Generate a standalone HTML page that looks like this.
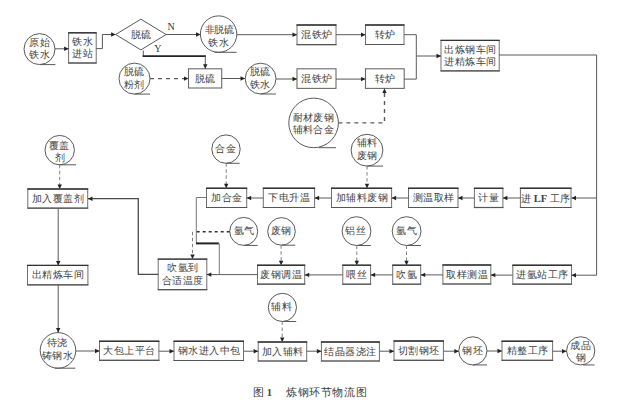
<!DOCTYPE html>
<html><head><meta charset="utf-8"><style>
html,body{margin:0;padding:0;background:#fff;width:624px;height:403px;overflow:hidden}
svg{display:block}
text{font-family:"Liberation Serif",serif;font-size:10.5px;fill:#404040}
</style></head><body>
<svg width="624" height="403" viewBox="0 0 624 403">
<rect width="624" height="403" fill="#fff"/>
<circle cx="39.5" cy="49.1" r="15.5" fill="none" stroke="#5a5a5a" stroke-width="1"/>
<line x1="40.3" y1="64.6" x2="55.4" y2="64.6" stroke="#5a5a5a" stroke-width="1"/>
<text x="39.599999999999994" y="46.128" text-anchor="middle" style="font-size:9.8px;letter-spacing:0.6px">原始</text>
<text x="39.599999999999994" y="58.327999999999996" text-anchor="middle" style="font-size:9.8px;letter-spacing:0.6px">铁水</text>
<circle cx="218.6" cy="34.1" r="18.2" fill="none" stroke="#5a5a5a" stroke-width="1"/>
<line x1="214.4" y1="52.3" x2="236.7" y2="52.3" stroke="#5a5a5a" stroke-width="1"/>
<text x="219.4" y="32.956" text-anchor="middle" style="font-size:9.6px;letter-spacing:-0.2px">非脱硫</text>
<text x="218.70000000000002" y="45.728" text-anchor="middle" style="font-size:9.8px;letter-spacing:0.6px">铁水</text>
<circle cx="134.5" cy="78.6" r="15.5" fill="none" stroke="#5a5a5a" stroke-width="1"/>
<line x1="134.5" y1="94.1" x2="150" y2="94.1" stroke="#5a5a5a" stroke-width="1"/>
<text x="134.5" y="74.828" text-anchor="middle" style="font-size:9.8px;letter-spacing:0.6px">脱硫</text>
<text x="134.5" y="87.528" text-anchor="middle" style="font-size:9.8px;letter-spacing:0.6px">粉剂</text>
<circle cx="260.6" cy="78.6" r="15.4" fill="none" stroke="#5a5a5a" stroke-width="1"/>
<line x1="260.6" y1="94.0" x2="276" y2="94.0" stroke="#5a5a5a" stroke-width="1"/>
<text x="260.3" y="75.028" text-anchor="middle" style="font-size:9.8px;letter-spacing:0.6px">脱硫</text>
<text x="260.3" y="87.828" text-anchor="middle" style="font-size:9.8px;letter-spacing:0.6px">铁水</text>
<circle cx="313.6" cy="122.9" r="24.8" fill="none" stroke="#5a5a5a" stroke-width="1"/>
<line x1="318.7" y1="147.70000000000002" x2="336" y2="147.70000000000002" stroke="#5a5a5a" stroke-width="1"/>
<text x="313.4" y="120.708" text-anchor="middle" style="font-size:10.3px;letter-spacing:0.4px">耐材废钢</text>
<text x="313.4" y="132.708" text-anchor="middle" style="font-size:10.3px;letter-spacing:0.4px">辅料合金</text>
<circle cx="59.7" cy="150.1" r="14.7" fill="none" stroke="#5a5a5a" stroke-width="1"/>
<line x1="58.75" y1="164.79999999999998" x2="76" y2="164.79999999999998" stroke="#5a5a5a" stroke-width="1"/>
<text x="59.3" y="148.628" text-anchor="middle" style="font-size:9.8px;letter-spacing:0.6px">覆盖</text>
<text x="60.099999999999994" y="160.828" text-anchor="middle" style="font-size:9.8px;letter-spacing:0.6px">剂</text>
<circle cx="226" cy="149.1" r="14.2" fill="none" stroke="#5a5a5a" stroke-width="1"/>
<line x1="225.8" y1="163.29999999999998" x2="239.7" y2="163.29999999999998" stroke="#5a5a5a" stroke-width="1"/>
<text x="226.10000000000002" y="151.628" text-anchor="middle" style="font-size:9.8px;letter-spacing:0.6px">合金</text>
<circle cx="367" cy="150.2" r="15.9" fill="none" stroke="#5a5a5a" stroke-width="1"/>
<line x1="367" y1="166.1" x2="383" y2="166.1" stroke="#5a5a5a" stroke-width="1"/>
<text x="367.3" y="146.328" text-anchor="middle" style="font-size:9.8px;letter-spacing:0.6px">辅料</text>
<text x="367.3" y="159.028" text-anchor="middle" style="font-size:9.8px;letter-spacing:0.6px">废钢</text>
<circle cx="243.7" cy="231.4" r="14" fill="none" stroke="#5a5a5a" stroke-width="1"/>
<line x1="243.7" y1="245.4" x2="257.7" y2="245.4" stroke="#5a5a5a" stroke-width="1"/>
<text x="244.20000000000002" y="234.128" text-anchor="middle" style="font-size:9.8px;letter-spacing:0.6px">氩气</text>
<circle cx="281.5" cy="231.4" r="13.8" fill="none" stroke="#5a5a5a" stroke-width="1"/>
<line x1="281.5" y1="245.20000000000002" x2="295.3" y2="245.20000000000002" stroke="#5a5a5a" stroke-width="1"/>
<text x="281.5" y="234.428" text-anchor="middle" style="font-size:9.8px;letter-spacing:0.6px">废钢</text>
<circle cx="356.5" cy="231.1" r="14.4" fill="none" stroke="#5a5a5a" stroke-width="1"/>
<line x1="356.5" y1="245.5" x2="370.9" y2="245.5" stroke="#5a5a5a" stroke-width="1"/>
<text x="355.90000000000003" y="233.928" text-anchor="middle" style="font-size:9.8px;letter-spacing:0.6px">铝丝</text>
<circle cx="406.6" cy="231.1" r="14.4" fill="none" stroke="#5a5a5a" stroke-width="1"/>
<line x1="406.6" y1="245.5" x2="421" y2="245.5" stroke="#5a5a5a" stroke-width="1"/>
<text x="406.8" y="233.928" text-anchor="middle" style="font-size:9.8px;letter-spacing:0.6px">氩气</text>
<circle cx="58" cy="350.4" r="17.8" fill="none" stroke="#5a5a5a" stroke-width="1"/>
<line x1="54.8" y1="368.2" x2="75.4" y2="368.2" stroke="#5a5a5a" stroke-width="1"/>
<text x="57.4" y="345.528" text-anchor="middle" style="font-size:9.8px;letter-spacing:0.6px">待浇</text>
<text x="57.5" y="358.55600000000004" text-anchor="middle" style="font-size:9.6px;letter-spacing:0.2px">铸钢水</text>
<circle cx="282.4" cy="307.4" r="14.1" fill="none" stroke="#5a5a5a" stroke-width="1"/>
<line x1="282.4" y1="321.5" x2="296.2" y2="321.5" stroke="#5a5a5a" stroke-width="1"/>
<text x="282.1" y="310.428" text-anchor="middle" style="font-size:9.8px;letter-spacing:0.6px">辅料</text>
<circle cx="472.85" cy="350.85" r="14.1" fill="none" stroke="#5a5a5a" stroke-width="1"/>
<line x1="472.8" y1="364.95000000000005" x2="487" y2="364.95000000000005" stroke="#5a5a5a" stroke-width="1"/>
<text x="472.90000000000003" y="353.928" text-anchor="middle" style="font-size:9.8px;letter-spacing:0.6px">钢坯</text>
<circle cx="580.7" cy="350.85" r="14.1" fill="none" stroke="#5a5a5a" stroke-width="1"/>
<line x1="583" y1="364.95000000000005" x2="594.5" y2="364.95000000000005" stroke="#5a5a5a" stroke-width="1"/>
<text x="580.5999999999999" y="349.428" text-anchor="middle" style="font-size:9.8px;letter-spacing:0.6px">成品</text>
<text x="580.9" y="361.428" text-anchor="middle" style="font-size:9.8px;letter-spacing:0.6px">钢</text>
<rect x="68.6" y="32.8" width="27.60000000000001" height="30.200000000000003" fill="none" stroke="#707070" stroke-width="1"/>
<line x1="68.1" y1="32.8" x2="96.7" y2="32.8" stroke="#333" stroke-width="1.4"/>
<line x1="68.1" y1="63" x2="96.7" y2="63" stroke="#555" stroke-width="1.2"/>
<text x="82.65" y="44.85" text-anchor="middle" style="font-size:10px;letter-spacing:0.5px">铁水</text>
<text x="82.65" y="57.35" text-anchor="middle" style="font-size:10px;letter-spacing:0.5px">进站</text>
<rect x="188.5" y="68.8" width="33.19999999999999" height="19.200000000000003" fill="none" stroke="#6a6a6a" stroke-width="1.1"/>
<text x="205.35" y="81.6" text-anchor="middle" style="font-size:10px;letter-spacing:0.5px">脱硫</text>
<rect x="297" y="25" width="39" height="19.6" fill="none" stroke="#707070" stroke-width="1"/>
<line x1="296.5" y1="25" x2="336.5" y2="25" stroke="#333" stroke-width="1.4"/>
<line x1="296.5" y1="44.6" x2="336.5" y2="44.6" stroke="#555" stroke-width="1.2"/>
<text x="316.75" y="38.0" text-anchor="middle" style="font-size:10px;letter-spacing:0.5px">混铁炉</text>
<rect x="365.5" y="25" width="38.5" height="19.5" fill="none" stroke="#707070" stroke-width="1"/>
<line x1="365.0" y1="25" x2="404.5" y2="25" stroke="#333" stroke-width="1.4"/>
<line x1="365.0" y1="44.5" x2="404.5" y2="44.5" stroke="#555" stroke-width="1.2"/>
<text x="385.0" y="37.95" text-anchor="middle" style="font-size:10px;letter-spacing:0.5px">转炉</text>
<rect x="297" y="68.8" width="39" height="19.60000000000001" fill="none" stroke="#6a6a6a" stroke-width="1.1"/>
<text x="316.75" y="81.79999999999998" text-anchor="middle" style="font-size:10px;letter-spacing:0.5px">混铁炉</text>
<rect x="365.5" y="68.8" width="38.69999999999999" height="19.60000000000001" fill="none" stroke="#6a6a6a" stroke-width="1.1"/>
<text x="385.1" y="81.79999999999998" text-anchor="middle" style="font-size:10px;letter-spacing:0.5px">转炉</text>
<rect x="441" y="40.4" width="58.19999999999999" height="30.500000000000007" fill="none" stroke="#707070" stroke-width="1"/>
<line x1="440.5" y1="40.4" x2="499.7" y2="40.4" stroke="#333" stroke-width="1.4"/>
<line x1="440.5" y1="70.9" x2="499.7" y2="70.9" stroke="#555" stroke-width="1.2"/>
<text x="470.35" y="52.60000000000001" text-anchor="middle" style="font-size:10px;letter-spacing:0.5px">出炼钢车间</text>
<text x="470.35" y="65.10000000000001" text-anchor="middle" style="font-size:10px;letter-spacing:0.5px">进精炼车间</text>
<rect x="520.4" y="188.3" width="50.60000000000002" height="19.19999999999999" fill="none" stroke="#707070" stroke-width="1"/>
<line x1="519.9" y1="188.3" x2="571.5" y2="188.3" stroke="#333" stroke-width="1.4"/>
<line x1="519.9" y1="207.5" x2="571.5" y2="207.5" stroke="#555" stroke-width="1.2"/>
<rect x="474.4" y="188.3" width="28.5" height="19.19999999999999" fill="none" stroke="#707070" stroke-width="1"/>
<line x1="473.9" y1="188.3" x2="503.4" y2="188.3" stroke="#333" stroke-width="1.4"/>
<line x1="473.9" y1="207.5" x2="503.4" y2="207.5" stroke="#555" stroke-width="1.2"/>
<text x="488.9" y="201.1" text-anchor="middle" style="font-size:10px;letter-spacing:0.5px">计量</text>
<rect x="408.5" y="188.3" width="49.5" height="19.19999999999999" fill="none" stroke="#707070" stroke-width="1"/>
<line x1="408.0" y1="188.3" x2="458.5" y2="188.3" stroke="#333" stroke-width="1.4"/>
<line x1="408.0" y1="207.5" x2="458.5" y2="207.5" stroke="#555" stroke-width="1.2"/>
<text x="433.5" y="201.1" text-anchor="middle" style="font-size:10px;letter-spacing:0.5px">测温取样</text>
<rect x="331.5" y="188.3" width="60.10000000000002" height="19.19999999999999" fill="none" stroke="#707070" stroke-width="1"/>
<line x1="331.0" y1="188.3" x2="392.1" y2="188.3" stroke="#333" stroke-width="1.4"/>
<line x1="331.0" y1="207.5" x2="392.1" y2="207.5" stroke="#555" stroke-width="1.2"/>
<text x="361.8" y="201.1" text-anchor="middle" style="font-size:10px;letter-spacing:0.5px">加辅料废钢</text>
<rect x="263.3" y="188.3" width="51.30000000000001" height="19.19999999999999" fill="none" stroke="#707070" stroke-width="1"/>
<line x1="262.8" y1="188.3" x2="315.1" y2="188.3" stroke="#333" stroke-width="1.4"/>
<line x1="262.8" y1="207.5" x2="315.1" y2="207.5" stroke="#555" stroke-width="1.2"/>
<text x="289.20000000000005" y="201.1" text-anchor="middle" style="font-size:10px;letter-spacing:0.5px">下电升温</text>
<rect x="206.5" y="188.3" width="40.19999999999999" height="19.19999999999999" fill="none" stroke="#707070" stroke-width="1"/>
<line x1="206.0" y1="188.3" x2="247.2" y2="188.3" stroke="#333" stroke-width="1.4"/>
<line x1="206.0" y1="207.5" x2="247.2" y2="207.5" stroke="#555" stroke-width="1.2"/>
<text x="226.85" y="201.1" text-anchor="middle" style="font-size:10px;letter-spacing:0.5px">加合金</text>
<rect x="27.8" y="189" width="59.900000000000006" height="19.19999999999999" fill="none" stroke="#707070" stroke-width="1"/>
<line x1="27.3" y1="189" x2="88.2" y2="189" stroke="#333" stroke-width="1.4"/>
<line x1="27.3" y1="208.2" x2="88.2" y2="208.2" stroke="#555" stroke-width="1.2"/>
<text x="58.0" y="201.79999999999998" text-anchor="middle" style="font-size:10px;letter-spacing:0.5px">加入覆盖剂</text>
<rect x="158.2" y="259.1" width="48.60000000000002" height="30.599999999999966" fill="none" stroke="#707070" stroke-width="1"/>
<line x1="157.7" y1="259.1" x2="207.3" y2="259.1" stroke="#333" stroke-width="1.4"/>
<line x1="157.7" y1="289.7" x2="207.3" y2="289.7" stroke="#555" stroke-width="1.2"/>
<text x="182.75" y="271.35" text-anchor="middle" style="font-size:10px;letter-spacing:0.5px">吹氩到</text>
<text x="182.75" y="283.85" text-anchor="middle" style="font-size:10px;letter-spacing:0.5px">合适温度</text>
<rect x="257.5" y="265.2" width="47.19999999999999" height="19.0" fill="none" stroke="#707070" stroke-width="1"/>
<line x1="257.0" y1="265.2" x2="305.2" y2="265.2" stroke="#333" stroke-width="1.4"/>
<line x1="257.0" y1="284.2" x2="305.2" y2="284.2" stroke="#555" stroke-width="1.2"/>
<text x="281.35" y="277.90000000000003" text-anchor="middle" style="font-size:10px;letter-spacing:0.5px">废钢调温</text>
<rect x="342.8" y="265.2" width="27.80000000000001" height="19.0" fill="none" stroke="#707070" stroke-width="1"/>
<line x1="342.3" y1="265.2" x2="371.1" y2="265.2" stroke="#333" stroke-width="1.4"/>
<line x1="342.3" y1="284.2" x2="371.1" y2="284.2" stroke="#555" stroke-width="1.2"/>
<text x="356.95000000000005" y="277.90000000000003" text-anchor="middle" style="font-size:10px;letter-spacing:0.5px">喂丝</text>
<rect x="392.7" y="265.2" width="28.0" height="19.0" fill="none" stroke="#707070" stroke-width="1"/>
<line x1="392.2" y1="265.2" x2="421.2" y2="265.2" stroke="#333" stroke-width="1.4"/>
<line x1="392.2" y1="284.2" x2="421.2" y2="284.2" stroke="#555" stroke-width="1.2"/>
<text x="406.95" y="277.90000000000003" text-anchor="middle" style="font-size:10px;letter-spacing:0.5px">吹氩</text>
<rect x="442.9" y="265" width="47.900000000000034" height="19" fill="none" stroke="#707070" stroke-width="1"/>
<line x1="442.4" y1="265" x2="491.3" y2="265" stroke="#333" stroke-width="1.4"/>
<line x1="442.4" y1="284" x2="491.3" y2="284" stroke="#555" stroke-width="1.2"/>
<text x="467.1" y="277.70000000000005" text-anchor="middle" style="font-size:10px;letter-spacing:0.5px">取样测温</text>
<rect x="512.8" y="265.2" width="58.700000000000045" height="19.0" fill="none" stroke="#707070" stroke-width="1"/>
<line x1="512.3" y1="265.2" x2="572.0" y2="265.2" stroke="#333" stroke-width="1.4"/>
<line x1="512.3" y1="284.2" x2="572.0" y2="284.2" stroke="#555" stroke-width="1.2"/>
<text x="542.4" y="277.90000000000003" text-anchor="middle" style="font-size:10px;letter-spacing:0.5px">进氩站工序</text>
<rect x="27.5" y="265.4" width="60.400000000000006" height="19.400000000000034" fill="none" stroke="#707070" stroke-width="1"/>
<line x1="27.0" y1="265.4" x2="88.4" y2="265.4" stroke="#333" stroke-width="1.4"/>
<line x1="27.0" y1="284.8" x2="88.4" y2="284.8" stroke="#555" stroke-width="1.2"/>
<text x="57.95" y="278.30000000000007" text-anchor="middle" style="font-size:10px;letter-spacing:0.5px">出精炼车间</text>
<rect x="99.5" y="341.3" width="59.400000000000006" height="19.0" fill="none" stroke="#707070" stroke-width="1"/>
<line x1="99.0" y1="341.3" x2="159.4" y2="341.3" stroke="#333" stroke-width="1.4"/>
<line x1="99.0" y1="360.3" x2="159.4" y2="360.3" stroke="#555" stroke-width="1.2"/>
<text x="129.45" y="354.00000000000006" text-anchor="middle" style="font-size:10px;letter-spacing:0.5px">大包上平台</text>
<rect x="174" y="341.3" width="69.5" height="19.19999999999999" fill="none" stroke="#707070" stroke-width="1"/>
<line x1="173.5" y1="341.3" x2="244.0" y2="341.3" stroke="#333" stroke-width="1.4"/>
<line x1="173.5" y1="360.5" x2="244.0" y2="360.5" stroke="#555" stroke-width="1.2"/>
<text x="209.0" y="354.1" text-anchor="middle" style="font-size:10px;letter-spacing:0.5px">钢水进入中包</text>
<rect x="258.2" y="342" width="48.5" height="19" fill="none" stroke="#707070" stroke-width="1"/>
<line x1="257.7" y1="342" x2="307.2" y2="342" stroke="#333" stroke-width="1.4"/>
<line x1="257.7" y1="361" x2="307.2" y2="361" stroke="#555" stroke-width="1.2"/>
<text x="282.7" y="354.70000000000005" text-anchor="middle" style="font-size:10px;letter-spacing:0.5px">加入辅料</text>
<rect x="321.4" y="342" width="58.0" height="19" fill="none" stroke="#707070" stroke-width="1"/>
<line x1="320.9" y1="342" x2="379.9" y2="342" stroke="#333" stroke-width="1.4"/>
<line x1="320.9" y1="361" x2="379.9" y2="361" stroke="#555" stroke-width="1.2"/>
<text x="350.65" y="354.70000000000005" text-anchor="middle" style="font-size:10px;letter-spacing:0.5px">结晶器浇注</text>
<rect x="394" y="341" width="49.39999999999998" height="19.30000000000001" fill="none" stroke="#707070" stroke-width="1"/>
<line x1="393.5" y1="341" x2="443.9" y2="341" stroke="#333" stroke-width="1.4"/>
<line x1="393.5" y1="360.3" x2="443.9" y2="360.3" stroke="#555" stroke-width="1.2"/>
<text x="418.95" y="353.85" text-anchor="middle" style="font-size:10px;letter-spacing:0.5px">切割钢坯</text>
<rect x="502" y="341.2" width="50.60000000000002" height="19.100000000000023" fill="none" stroke="#707070" stroke-width="1"/>
<line x1="501.5" y1="341.2" x2="553.1" y2="341.2" stroke="#333" stroke-width="1.4"/>
<line x1="501.5" y1="360.3" x2="553.1" y2="360.3" stroke="#555" stroke-width="1.2"/>
<text x="527.55" y="353.95000000000005" text-anchor="middle" style="font-size:10px;letter-spacing:0.5px">精整工序</text>
<text x="545.5" y="201.5" text-anchor="middle" style="font-size:10px;letter-spacing:0">进 <tspan style="font-weight:bold;font-size:10.5px">LF</tspan> 工序</text>
<polygon points="115.6,34.5 140.9,19.2 166.1,34.5 140.9,49.9" fill="none" stroke="#5a5a5a" stroke-width="1"/>
<text x="141.4" y="38.028" text-anchor="middle" style="font-size:9.8px;letter-spacing:0.6px">脱硫</text>
<text x="167.5" y="29.8" style="font-size:10px;fill:#333">N</text>
<text x="154.3" y="51.6" style="font-size:10px;fill:#333">Y</text>
<polyline points="55,48.8 68.6,48.8" fill="none" stroke="#5a5a5a" stroke-width="1"/>
<polygon points="68.6,48.8 64.1,46.599999999999994 64.1,51.0" fill="#222"/>
<polyline points="96.2,48.6 102.4,48.6 102.4,34.5 115.6,34.5" fill="none" stroke="#5a5a5a" stroke-width="1"/>
<polygon points="115.6,34.5 111.1,32.3 111.1,36.7" fill="#222"/>
<polyline points="166,34.5 200.5,34.5" fill="none" stroke="#5a5a5a" stroke-width="1"/>
<polygon points="200.5,34.5 196.0,32.3 196.0,36.7" fill="#222"/>
<polyline points="143.3,50.5 143.3,56.1" fill="none" stroke="#5a5a5a" stroke-width="1"/>
<polyline points="142.6,56.1 206,56.1" fill="none" stroke="#222" stroke-width="1.8"/>
<polyline points="205.3,56.1 205.3,68.8" fill="none" stroke="#5a5a5a" stroke-width="1"/>
<polygon points="205.3,68.8 203.10000000000002,64.3 207.5,64.3" fill="#222"/>
<polyline points="150,78.6 188.5,78.6" fill="none" stroke="#5a5a5a" stroke-width="1.3" stroke-dasharray="4,4"/>
<polygon points="188.5,78.6 184.0,76.39999999999999 184.0,80.8" fill="#222"/>
<polyline points="221.7,78.5 245,78.5" fill="none" stroke="#5a5a5a" stroke-width="1"/>
<polygon points="245,78.5 240.5,76.3 240.5,80.7" fill="#222"/>
<polyline points="276,79 297,79" fill="none" stroke="#5a5a5a" stroke-width="1"/>
<polygon points="297,79 292.5,76.8 292.5,81.2" fill="#222"/>
<polyline points="336,79.1 365.5,79.1" fill="none" stroke="#5a5a5a" stroke-width="1"/>
<polygon points="365.5,79.1 361.0,76.89999999999999 361.0,81.3" fill="#222"/>
<polyline points="237,34.7 297,34.7" fill="none" stroke="#5a5a5a" stroke-width="1"/>
<polygon points="297,34.7 292.5,32.5 292.5,36.900000000000006" fill="#222"/>
<polyline points="336,34.7 365.5,34.7" fill="none" stroke="#5a5a5a" stroke-width="1"/>
<polygon points="365.5,34.7 361.0,32.5 361.0,36.900000000000006" fill="#222"/>
<polyline points="404,34.7 416.3,34.7 416.3,79.1 404.2,79.1" fill="none" stroke="#5a5a5a" stroke-width="1"/>
<polyline points="416.3,56 441,56" fill="none" stroke="#5a5a5a" stroke-width="1"/>
<polygon points="441,56 436.5,53.8 436.5,58.2" fill="#222"/>
<polyline points="338.4,122.9 384.5,122.9 384.5,88.5" fill="none" stroke="#5a5a5a" stroke-width="1.4" stroke-dasharray="4,4"/>
<polygon points="384.5,88.5 382.3,93.0 386.7,93.0" fill="#222"/>
<polyline points="499.2,55 596.6,55 596.6,275.2" fill="none" stroke="#5a5a5a" stroke-width="1"/>
<polyline points="596.6,198 571.5,198" fill="none" stroke="#5a5a5a" stroke-width="1"/>
<polygon points="571.5,198 576.0,195.8 576.0,200.2" fill="#222"/>
<polyline points="596.6,275.2 571.5,275.2" fill="none" stroke="#5a5a5a" stroke-width="1"/>
<polygon points="571.5,275.2 576.0,273.0 576.0,277.4" fill="#222"/>
<polyline points="520,198 502.9,198" fill="none" stroke="#5a5a5a" stroke-width="1"/>
<polygon points="502.9,198 507.4,195.8 507.4,200.2" fill="#222"/>
<polyline points="474.4,198 458,198" fill="none" stroke="#5a5a5a" stroke-width="1"/>
<polygon points="458,198 462.5,195.8 462.5,200.2" fill="#222"/>
<polyline points="408.5,198 391.6,198" fill="none" stroke="#5a5a5a" stroke-width="1"/>
<polygon points="391.6,198 396.1,195.8 396.1,200.2" fill="#222"/>
<polyline points="331.5,198 314.6,198" fill="none" stroke="#5a5a5a" stroke-width="1"/>
<polygon points="314.6,198 319.1,195.8 319.1,200.2" fill="#222"/>
<polyline points="263.3,198 246.7,198" fill="none" stroke="#5a5a5a" stroke-width="1"/>
<polygon points="246.7,198 251.2,195.8 251.2,200.2" fill="#222"/>
<polyline points="226.2,163.3 226.2,188.3" fill="none" stroke="#808080" stroke-width="1" stroke-dasharray="3.5,2.5"/>
<polygon points="226.2,188.3 224.0,183.8 228.39999999999998,183.8" fill="#222"/>
<polyline points="367,166.1 367,188.3" fill="none" stroke="#808080" stroke-width="1" stroke-dasharray="3.5,2.5"/>
<polygon points="367,188.3 364.8,183.8 369.2,183.8" fill="#222"/>
<polyline points="59.7,164.8 59.7,189" fill="none" stroke="#808080" stroke-width="1" stroke-dasharray="3.5,2.5"/>
<polygon points="59.7,189 57.5,184.5 61.900000000000006,184.5" fill="#222"/>
<polyline points="58.2,208.2 58.2,265.4" fill="none" stroke="#5a5a5a" stroke-width="1"/>
<polygon points="58.2,265.4 56.0,260.9 60.400000000000006,260.9" fill="#222"/>
<polyline points="58.2,284.8 58.2,332.5" fill="none" stroke="#5a5a5a" stroke-width="1"/>
<polygon points="58.2,332.5 56.0,328.0 60.400000000000006,328.0" fill="#222"/>
<polyline points="206.5,197.5 196.3,197.5 196.3,243.4" fill="none" stroke="#777" stroke-width="1"/>
<polyline points="196,243.4 218.8,243.4" fill="none" stroke="#222" stroke-width="2"/>
<polyline points="219.3,243.4 219.3,274.5" fill="none" stroke="#777" stroke-width="1"/>
<polyline points="229.7,231.8 196,231.8" fill="none" stroke="#333" stroke-width="1.5" stroke-dasharray="3,3"/>
<polyline points="192.5,231.8 192.5,259.1" fill="none" stroke="#808080" stroke-width="1" stroke-dasharray="3.5,2.5"/>
<polygon points="192.5,259.1 190.3,254.60000000000002 194.7,254.60000000000002" fill="#222"/>
<polyline points="257.5,274.6 206.8,274.6" fill="none" stroke="#5a5a5a" stroke-width="1"/>
<polygon points="206.8,274.6 211.3,272.40000000000003 211.3,276.8" fill="#222"/>
<polyline points="342.8,274.9 304.7,274.9" fill="none" stroke="#5a5a5a" stroke-width="1"/>
<polygon points="304.7,274.9 309.2,272.7 309.2,277.09999999999997" fill="#222"/>
<polyline points="392.7,274.9 370.6,274.9" fill="none" stroke="#5a5a5a" stroke-width="1"/>
<polygon points="370.6,274.9 375.1,272.7 375.1,277.09999999999997" fill="#222"/>
<polyline points="442.9,274.9 420.7,274.9" fill="none" stroke="#5a5a5a" stroke-width="1"/>
<polygon points="420.7,274.9 425.2,272.7 425.2,277.09999999999997" fill="#222"/>
<polyline points="512.5,275.1 490.8,275.1" fill="none" stroke="#5a5a5a" stroke-width="1"/>
<polygon points="490.8,275.1 495.3,272.90000000000003 495.3,277.3" fill="#222"/>
<polyline points="281.1,245.2 281.1,265.2" fill="none" stroke="#808080" stroke-width="1" stroke-dasharray="3.5,2.5"/>
<polygon points="281.1,265.2 278.90000000000003,260.7 283.3,260.7" fill="#222"/>
<polyline points="356.8,245.5 356.8,265.2" fill="none" stroke="#808080" stroke-width="1" stroke-dasharray="3.5,2.5"/>
<polygon points="356.8,265.2 354.6,260.7 359.0,260.7" fill="#222"/>
<polyline points="406.5,245.5 406.5,265.2" fill="none" stroke="#808080" stroke-width="1" stroke-dasharray="3.5,2.5"/>
<polygon points="406.5,265.2 404.3,260.7 408.7,260.7" fill="#222"/>
<polyline points="158.2,274.4 138.3,274.4 138.3,198.7 88,198.7" fill="none" stroke="#4a4a4a" stroke-width="1.3"/>
<polygon points="88,198.7 92.5,196.5 92.5,200.89999999999998" fill="#222"/>
<polyline points="76,351 99.5,351" fill="none" stroke="#5a5a5a" stroke-width="1"/>
<polygon points="99.5,351 95.0,348.8 95.0,353.2" fill="#222"/>
<polyline points="158.9,351.2 174,351.2" fill="none" stroke="#5a5a5a" stroke-width="1"/>
<polygon points="174,351.2 169.5,349.0 169.5,353.4" fill="#222"/>
<polyline points="243.5,351.2 258.2,351.2" fill="none" stroke="#5a5a5a" stroke-width="1"/>
<polygon points="258.2,351.2 253.7,349.0 253.7,353.4" fill="#222"/>
<polyline points="306.7,351.2 321.4,351.2" fill="none" stroke="#5a5a5a" stroke-width="1"/>
<polygon points="321.4,351.2 316.9,349.0 316.9,353.4" fill="#222"/>
<polyline points="379.4,351.2 394,351.2" fill="none" stroke="#5a5a5a" stroke-width="1"/>
<polygon points="394,351.2 389.5,349.0 389.5,353.4" fill="#222"/>
<polyline points="443.4,351.2 458.8,351.2" fill="none" stroke="#5a5a5a" stroke-width="1"/>
<polygon points="458.8,351.2 454.3,349.0 454.3,353.4" fill="#222"/>
<polyline points="487,351 502,351" fill="none" stroke="#5a5a5a" stroke-width="1"/>
<polygon points="502,351 497.5,348.8 497.5,353.2" fill="#222"/>
<polyline points="552.6,351.2 566.5,351.2" fill="none" stroke="#5a5a5a" stroke-width="1"/>
<polygon points="566.5,351.2 562.0,349.0 562.0,353.4" fill="#222"/>
<polyline points="282.2,321.5 282.2,342" fill="none" stroke="#808080" stroke-width="1" stroke-dasharray="3.5,2.5"/>
<polygon points="282.2,342 280.0,337.5 284.4,337.5" fill="#222"/>
<text x="253" y="396" text-anchor="start" style="font-size:10.5px">图 <tspan font-weight="bold">1</tspan></text>
<text x="286" y="396" text-anchor="start" style="font-size:10.5px;letter-spacing:0.6px">炼钢环节物流图</text>
</svg>
</body></html>
